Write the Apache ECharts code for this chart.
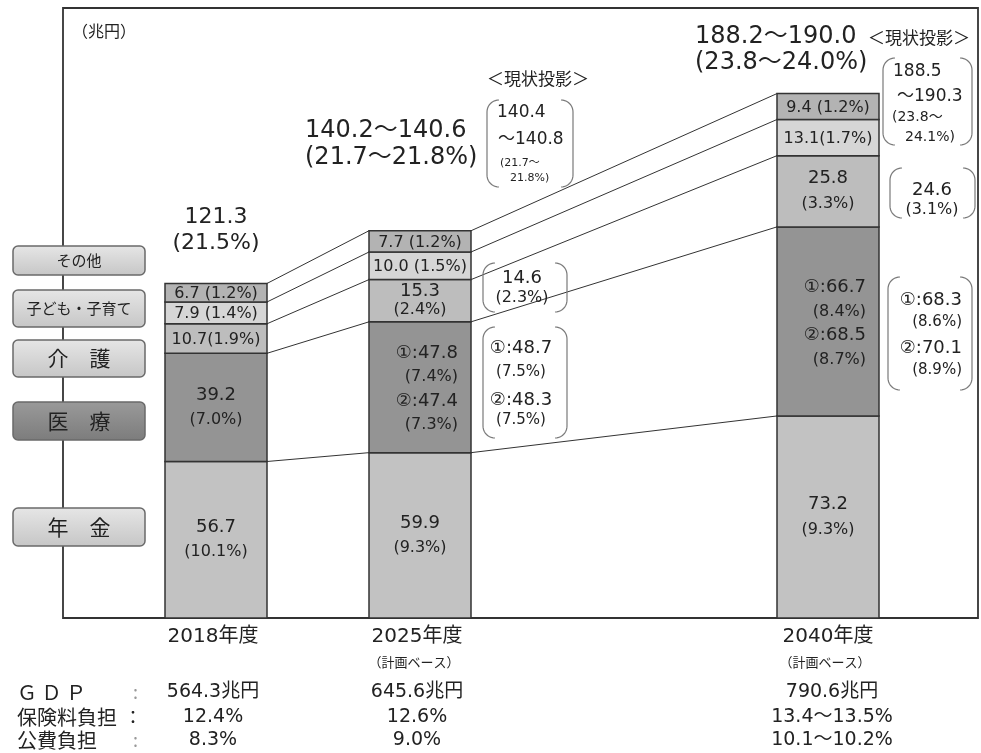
<!DOCTYPE html>
<html>
<head>
<meta charset="utf-8">
<script src="https://cdn.jsdelivr.net/npm/echarts@6/dist/echarts.min.js"></script>
<style>
  html, body { margin: 0; padding: 0; background: #fff; }
  #main { width: 981px; height: 753px; }
</style>
</head>
<body>
<div id="main"></div>
<script>
// 社会保障給付費の見通し（兆円、カッコ内は対GDP比）
const years = ['2018年度', '2025年度', '2040年度'];
const yearNotes = ['', '（計画ベース）', '（計画ベース）'];
const segmentNames = ['年金', '医療', '介護', '子ども・子育て', 'その他'];

const pension   = [56.7, 59.9, 73.2];
const medical   = [39.2, 47.4, 68.5];   // 医療はケース②の値
const care      = [10.7, 15.3, 25.8];
const childcare = [7.9, 10.0, 13.1];
const other     = [6.7, 7.7, 9.4];

const pensionLabels = [['56.7', '(10.1%)'], ['59.9', '(9.3%)'], ['73.2', '(9.3%)']];
const medicalLabels = [['39.2', '(7.0%)'], ['①:47.8', '(7.4%)', '②:47.4', '(7.3%)'], ['①:66.7', '(8.4%)', '②:68.5', '(8.7%)']];
const careLabels    = [['10.7(1.9%)'], ['15.3', '(2.4%)'], ['25.8', '(3.3%)']];
const childLabels   = [['7.9 (1.4%)'], ['10.0 (1.5%)'], ['13.1(1.7%)']];
const otherLabels   = [['6.7 (1.2%)'], ['7.7 (1.2%)'], ['9.4 (1.2%)']];
const totalLabels   = [['121.3', '(21.5%)'], ['140.2〜140.6', '(21.7〜21.8%)'], ['188.2〜190.0', '(23.8〜24.0%)']];

// 現状投影
const baselineTitle = '＜現状投影＞';
const baselineTotal2025   = ['140.4', '〜140.8', '(21.7〜', '21.8%)'];
const baselineCare2025    = ['14.6', '(2.3%)'];
const baselineMedical2025 = ['①:48.7', '(7.5%)', '②:48.3', '(7.5%)'];
const baselineTotal2040   = ['188.5', '〜190.3', '(23.8〜', '24.1%)'];
const baselineCare2040    = ['24.6', '(3.1%)'];
const baselineMedical2040 = ['①:68.3', '(8.6%)', '②:70.1', '(8.9%)'];

// 表の下段
const tableRowNames = ['Ｇ Ｄ Ｐ', '保険料負担', '公費負担'];
const gdp           = ['564.3兆円', '645.6兆円', '790.6兆円'];
const premiumBurden = ['12.4%', '12.6%', '13.4〜13.5%'];
const publicBurden  = ['8.3%', '9.0%', '10.1〜10.2%'];
const unitLabel = '（兆円）';

// ---- layout ----
const FONT_NUM = "'DejaVu Sans', 'Noto Sans CJK JP', sans-serif";
const FONT_JP = "'Noto Sans CJK JP', sans-serif";
const TEXT = '#222';
const barSlot = [1.5, 3.5, 7.5];      // bar centres on the x value axis (bar width = 1 unit)
const segValues = [pension, medical, care, childcare, other];
const segLabels = [pensionLabels, medicalLabels, careLabels, childLabels, otherLabels];
const segColors = ['#c2c2c2', '#949494', '#bdbdbd', '#d6d6d6', '#b3b3b3'];

const bases = segValues.map((_, s) =>
  years.map((_, i) => segValues.slice(0, s).reduce((a, v) => a + v[i], 0)));
const tops = segValues.map((v, s) => years.map((_, i) => bases[s][i] + v[i]));

function txtEl(text, x, y, size, align, font) {
  return {
    type: 'text',
    style: { text, x, y, fontSize: size, fontFamily: font || FONT_NUM, fill: TEXT,
             align: align || 'center', verticalAlign: 'middle' }
  };
}

function segmentSeries(s) {
  return {
    type: 'custom',
    name: segmentNames[s],
    z: 3,
    silent: true,
    data: years.map((_, i) => [barSlot[i], bases[s][i], tops[s][i]]),
    renderItem(params, api) {
      const i = params.dataIndex;
      const x = api.value(0), lo = api.value(1), hi = api.value(2);
      const tl = api.coord([x - 0.5, hi]);
      const br = api.coord([x + 0.5, lo]);
      const w = br[0] - tl[0], h = br[1] - tl[1];
      const children = [{
        type: 'rect',
        shape: { x: tl[0], y: tl[1], width: w, height: h },
        style: { fill: segColors[s], stroke: '#333', lineWidth: 1.5 }
      }];
      const lines = segLabels[s][i];
      const cx = tl[0] + w / 2, cy = tl[1] + h / 2;
      if (lines.length === 1) {
        children.push(txtEl(lines[0], cx, cy + 1, 16));
      } else if (lines.length === 2) {
        const gap = Math.min(25, h / 2.3);
        children.push(txtEl(lines[0], cx, cy - gap / 2, 18));
        children.push(txtEl(lines[1], cx, cy + gap / 2, 16));
      } else {
        const gap = 24, rx = br[0] - 13;
        lines.forEach((t, k) => children.push(
          txtEl(t, rx, cy + (k - 1.5) * gap + 2, t.startsWith('(') ? 16 : 18, 'right')));
      }
      return { type: 'group', children };
    }
  };
}

// 各区分の境界を結ぶ線
function connectorSeries(k) {
  return {
    type: 'line',
    z: 1,
    silent: true,
    symbol: 'none',
    lineStyle: { color: '#333', width: 1 },
    data: [
      [barSlot[0] + 0.5, tops[k][0]],
      [barSlot[1] - 0.5, tops[k][1]],
      [barSlot[1] + 0.5, tops[k][1]],
      [barSlot[2] - 0.5, tops[k][2]]
    ]
  };
}

const chart = echarts.init(document.getElementById('main'), null, { renderer: 'canvas' });
chart.setOption({
  animation: false,
  backgroundColor: '#fff',
  grid: { left: 63, right: 3, top: 8, bottom: 135, show: true,
          borderColor: '#333', borderWidth: 1.8, backgroundColor: 'transparent' },
  xAxis: { type: 'value', min: 0, max: 915 / 102, show: false },
  yAxis: { type: 'value', min: 0, max: 221, show: false },
  series: [
    ...segValues.map((_, k) => connectorSeries(k)),
    ...segValues.map((_, s) => segmentSeries(s))
  ]
});

// ---- annotations ----
const G = [];
function gText(text, x, y, size, align, font, color) {
  G.push({
    type: 'text', x, y, z: 20, silent: true,
    style: { text, fontSize: size, fontFamily: font || FONT_NUM, fill: color || TEXT,
             align: align || 'center', verticalAlign: 'middle' }
  });
}

// 丸括弧型の枠
function bracket(x0, y0, x1, y1) {
  const r = 12, n = 10;
  const L = [], R = [];
  for (let k = 0; k <= n; k++) {
    const a = Math.PI / 2 * k / n;
    L.push([x0 + r - r * Math.sin(a), y0 + r - r * Math.cos(a)]);
    R.push([x1 - r + r * Math.sin(a), y0 + r - r * Math.cos(a)]);
  }
  for (let k = 0; k <= n; k++) {
    const a = Math.PI / 2 * k / n;
    L.push([x0 + r - r * Math.cos(a), y1 - r + r * Math.sin(a)]);
    R.push([x1 - r + r * Math.cos(a), y1 - r + r * Math.sin(a)]);
  }
  [L, R].forEach(pts => G.push({
    type: 'polyline', z: 15, silent: true,
    shape: { points: pts },
    style: { stroke: '#7a7a7a', lineWidth: 1.2, fill: null }
  }));
}

// 凡例ボックス
const legendBoxes = [
  { name: 'その他', y0: 246, y1: 275, size: 15, dark: false },
  { name: '子ども・子育て', y0: 290, y1: 327, size: 15, dark: false },
  { name: '介　護', y0: 340, y1: 377, size: 21, dark: false },
  { name: '医　療', y0: 402, y1: 440, size: 21, dark: true },
  { name: '年　金', y0: 508, y1: 546, size: 21, dark: false }
];
legendBoxes.forEach(b => {
  G.push({
    type: 'rect', z: 12, silent: true,
    shape: { x: 13, y: b.y0, width: 132, height: b.y1 - b.y0, r: 5 },
    style: {
      fill: new echarts.graphic.LinearGradient(0, 0, 0, 1, b.dark
        ? [{ offset: 0, color: '#9a9a9a' }, { offset: 1, color: '#7c7c7c' }]
        : [{ offset: 0, color: '#e6e6e6' }, { offset: 1, color: '#c6c6c6' }]),
      stroke: '#6a6a6a', lineWidth: 1.5
    }
  });
  gText(b.name, 79, (b.y0 + b.y1) / 2, b.size, 'center', FONT_JP);
});

gText(unitLabel, 72, 31, 16, 'left', FONT_JP);

// 合計
gText(totalLabels[0][0], 216, 217, 22);
gText(totalLabels[0][1], 216, 243, 22);
gText(totalLabels[1][0], 305, 131, 24, 'left');
gText(totalLabels[1][1], 305, 158, 24, 'left');
gText(totalLabels[2][0], 695, 37, 24, 'left');
gText(totalLabels[2][1], 695, 63, 24, 'left');

// 現状投影 2025
gText(baselineTitle, 487, 79, 17, 'left', FONT_JP);
bracket(487, 100, 573, 187);
gText(baselineTotal2025[0], 497, 113, 17, 'left');
gText(baselineTotal2025[1], 498, 140, 17, 'left');
gText(baselineTotal2025[2], 500, 163, 11, 'left');
gText(baselineTotal2025[3], 510, 178, 11, 'left');
bracket(483, 263, 567, 312);
gText(baselineCare2025[0], 522, 278, 18);
gText(baselineCare2025[1], 522, 298, 16);
bracket(483, 327, 567, 438);
gText(baselineMedical2025[0], 521, 348, 18);
gText(baselineMedical2025[1], 521, 372, 15);
gText(baselineMedical2025[2], 521, 400, 18);
gText(baselineMedical2025[3], 521, 420, 15);

// 現状投影 2040
gText(baselineTitle, 868, 38, 17, 'left', FONT_JP);
bracket(883, 58, 972, 145);
gText(baselineTotal2040[0], 893, 72, 17, 'left');
gText(baselineTotal2040[1], 897, 97, 17, 'left');
gText(baselineTotal2040[2], 892, 117, 14, 'left');
gText(baselineTotal2040[3], 905, 137, 14, 'left');
bracket(890, 168, 975, 218);
gText(baselineCare2040[0], 932, 190, 18);
gText(baselineCare2040[1], 932, 210, 16);
bracket(888, 277, 972, 390);
gText(baselineMedical2040[0], 962, 300, 18, 'right');
gText(baselineMedical2040[1], 962, 322, 15, 'right');
gText(baselineMedical2040[2], 962, 348, 18, 'right');
gText(baselineMedical2040[3], 962, 370, 15, 'right');

// 年度ラベルと下段の表
const tableRows = [gdp, premiumBurden, publicBurden];
const rowY = [692, 717, 740];
years.forEach((yr, i) => {
  const px = chart.convertToPixel({ xAxisIndex: 0, yAxisIndex: 0 }, [barSlot[i], 0]);
  const cx = px[0] - (i < 2 ? 3 : 0);
  gText(yr, cx, 637, 20);
  if (yearNotes[i]) gText(yearNotes[i], cx - 3, 662, 13, 'center', FONT_JP);
  tableRows.forEach((row, r) => gText(row[i], cx + (i === 2 ? 4 : 0), rowY[r], 19));
});
tableRowNames.forEach((nm, r) => {
  gText(nm, 17, rowY[r], 20, 'left', FONT_JP);
  gText(r === 1 ? '：' : ':', r === 1 ? 124 : 133, rowY[r], 18, 'left', FONT_JP, r === 1 ? TEXT : '#999');
});

chart.setOption({ graphic: { elements: G } });
</script>
</body>
</html>
